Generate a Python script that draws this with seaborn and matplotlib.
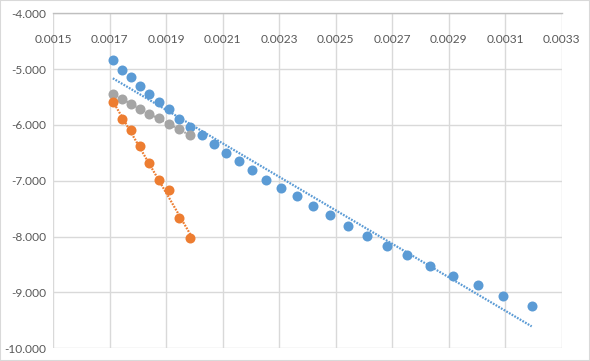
import matplotlib
matplotlib.use("Agg")
import matplotlib.pyplot as plt
import seaborn as sns
import pandas as pd
from matplotlib.ticker import FormatStrFormatter, FixedLocator
from matplotlib.patches import Rectangle

# Data
blue_x = [0.0017117, 0.0017425, 0.0017744, 0.0018063, 0.0018392, 0.0018746, 0.0019101,
          0.0019455, 0.0019859, 0.0020284, 0.0020690, 0.0021119, 0.0021580, 0.0022055,
          0.0022551, 0.0023082, 0.0023624, 0.0024202, 0.0024811, 0.0025424, 0.0026093,
          0.0026802, 0.0027531, 0.0028325, 0.0029150, 0.0030025, 0.0030932, 0.0031938]
blue_y = [-4.834, -5.013, -5.132, -5.298, -5.446, -5.596, -5.714,
          -5.893, -6.043, -6.188, -6.348, -6.500, -6.643, -6.798,
          -6.977, -7.120, -7.280, -7.446, -7.616, -7.811, -7.989,
          -8.168, -8.334, -8.525, -8.709, -8.875, -9.066, -9.250]

grey_x = [0.0017117, 0.0017425, 0.0017744, 0.0018063, 0.0018392, 0.0018746, 0.0019101,
          0.0019455, 0.0019859]
grey_y = [-5.446, -5.536, -5.620, -5.709, -5.795, -5.884, -5.986, -6.080, -6.184]

orange_x = [0.0017117, 0.0017425, 0.0017744, 0.0018063, 0.0018392, 0.0018746, 0.0019101,
            0.0019455, 0.0019859]
orange_y = [-5.596, -5.900, -6.084, -6.382, -6.673, -6.989, -7.168, -7.668, -8.018]

x_ticks = [0.0015, 0.0017, 0.0019, 0.0021, 0.0023, 0.0025, 0.0027, 0.0029, 0.0031, 0.0033]
y_ticks = [-4, -5, -6, -7, -8, -9, -10]

BLUE = "#5B9BD5"
ORANGE = "#ED7D31"
GREY = "#A5A5A5"
TEXT = "#595959"
GRID = "#D9D9D9"

sns.set_style("white")
plt.rcParams["font.family"] = ["Lato", "DejaVu Sans"]
plt.rcParams["axes.unicode_minus"] = False

fig = plt.figure(figsize=(5.9, 3.61), dpi=100)
ax = fig.add_axes([53 / 590, 1 - 348.3 / 361, (561.7 - 53) / 590, (348.3 - 13.3) / 361])

series = [
    (blue_x, blue_y, BLUE),
    (grey_x, grey_y, GREY),
    (orange_x, orange_y, ORANGE),
]
for xs, ys, col in series:
    df = pd.DataFrame({"x": xs, "y": ys})
    sns.scatterplot(data=df, x="x", y="y", ax=ax, color=col, s=52,
                    edgecolor=col, linewidth=0, zorder=3)
for xs, ys, col in series:
    df = pd.DataFrame({"x": xs, "y": ys})
    sns.regplot(data=df, x="x", y="y", ax=ax, scatter=False, ci=None, truncate=True,
                line_kws=dict(color=col, lw=1.6, linestyle=(0, (0.8, 0.6)), zorder=4))

ax.set_xlim(0.0015, 0.0033)
ax.set_ylim(-10, -4)
ax.xaxis.set_major_locator(FixedLocator(x_ticks))
ax.yaxis.set_major_locator(FixedLocator(y_ticks))
ax.xaxis.set_major_formatter(FormatStrFormatter("%.4f"))
ax.yaxis.set_major_formatter(FormatStrFormatter("%.3f"))
ax.set_xlabel("")
ax.set_ylabel("")

ax.grid(True, color=GRID, lw=1.0, zorder=0)
ax.set_axisbelow(True)
for s in ["left", "right", "bottom"]:
    ax.spines[s].set_visible(False)
ax.spines["top"].set_color("#BFBFBF")
ax.spines["top"].set_linewidth(1.0)

ax.tick_params(axis="x", top=True, labeltop=True, bottom=False, labelbottom=False,
               length=0, pad=-15, labelsize=8.6, labelcolor=TEXT)
ax.tick_params(axis="y", left=False, length=0, pad=5, labelsize=8.6, labelcolor=TEXT)
for lbl in ax.get_xticklabels():
    lbl.set_verticalalignment("top")

fig.patches.append(Rectangle((0, 0), 1, 1, transform=fig.transFigure, fill=False,
                             edgecolor=GRID, lw=1.5))

fig.savefig("out.png", dpi=100)
